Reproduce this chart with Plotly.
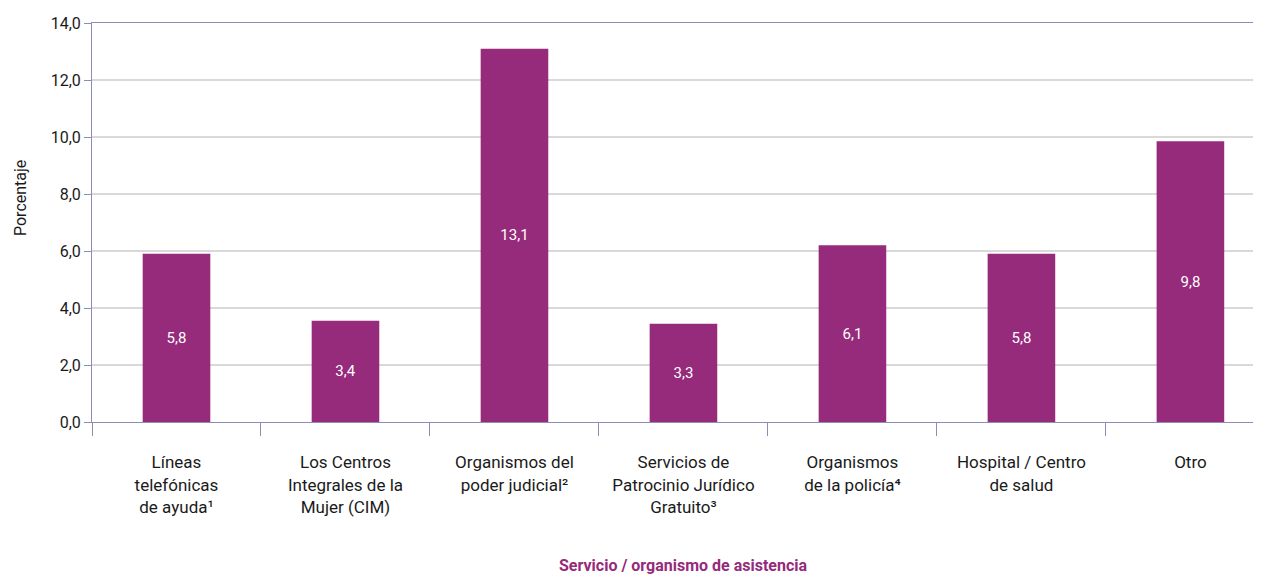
import plotly.graph_objects as go

# categorias (eje x)
categorias = [
    "Líneas<br>telefónicas<br>de ayuda¹",
    "Los Centros<br>Integrales de la<br>Mujer (CIM)",
    "Organismos del<br>poder judicial²",
    "Servicios de<br>Patrocinio Jurídico<br>Gratuito³",
    "Organismos<br>de la policía⁴",
    "Hospital / Centro<br>de salud",
    "Otro",
]
# altura de barras
porcentaje = [5.9, 3.55, 13.1, 3.45, 6.2, 5.9, 9.85]
# etiquetas impresas en las barras
etiquetas = ["5,8", "3,4", "13,1", "3,3", "6,1", "5,8", "9,8"]

morado = "#962a7b"
eje = "#8f8cb8"
fuente = "Roboto"

# la pagina tiene 8px de margen en body: el area de trazado va de x=92 a 1269, y=23 a 422
ancho_plot = 1177
alto_plot = 399

fig = go.Figure(go.Bar(
    x=categorias, y=porcentaje, text=etiquetas,
    textposition="inside", insidetextanchor="middle",
    textfont=dict(color="white", size=15, family=fuente),
    marker=dict(color=morado, line=dict(width=0)),
    width=0.4, hoverinfo="x+y",
))

fig.update_layout(
    width=1261, height=574,
    margin=dict(l=84, r=0, t=15, b=160),
    paper_bgcolor="white", plot_bgcolor="white",
    separators=",.",
    showlegend=False,
    font=dict(family=fuente, size=16, color="#1a1a1a"),
)
fig.update_xaxes(
    range=[-0.5, 6.465], tickson="boundaries", automargin=False,
    ticks="outside", ticklen=13, tickcolor=eje, tickwidth=1,
    ticklabelstandoff=25,
    showline=True, linecolor=eje, linewidth=1, mirror=True,
    showgrid=False, tickangle=0,
    tickfont=dict(size=17, family=fuente, color="#1a1a1a"),
)
fig.update_yaxes(
    range=[0, 14], dtick=2, tickformat=".1f", automargin=False,
    ticks="outside", ticklen=7, tickcolor=eje,
    showline=True, linecolor=eje, linewidth=1,
    gridcolor="#d9d9d9", gridwidth=1.5, zeroline=False,
    tickfont=dict(size=16, family=fuente, color="#1a1a1a"),
)

fig.add_annotation(text="Porcentaje", textangle=-90,
                   xref="paper", x=(20 - 92) / ancho_plot, xanchor="center",
                   yref="paper", y=(422 - 198) / alto_plot, yanchor="middle",
                   showarrow=False,
                   font=dict(size=16, family=fuente, color="#1a1a1a"))
fig.add_annotation(text="<b>Servicio / organismo de asistencia</b>",
                   xref="paper", x=(683 - 92) / ancho_plot, xanchor="center",
                   yref="paper", y=(422 - 565) / alto_plot, yanchor="middle",
                   showarrow=False,
                   font=dict(size=16, family=fuente, color=morado))

fig.write_html("out.html")
